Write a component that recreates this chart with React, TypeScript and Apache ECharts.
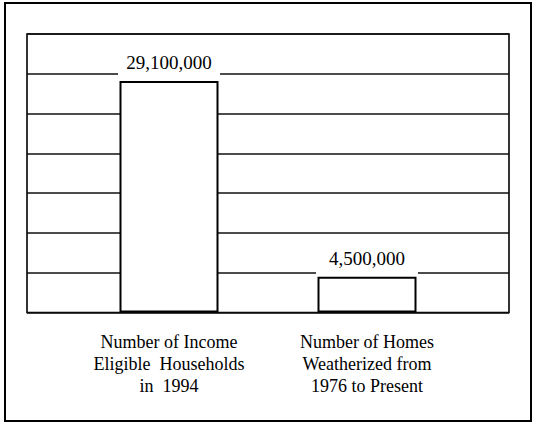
import React, { useEffect, useRef } from "react";
import * as echarts from "echarts";

const categories = [
  "Number of Income\nEligible  Households\nin  1994",
  "Number of Homes\nWeatherized from\n1976 to Present",
];
const values = [29100000, 4500000];
const yMin = 0;
const yMax = 35000000;
const yInterval = 5000000;

const FONT = "Liberation Serif";

export default function App() {
  const ref = useRef<HTMLDivElement>(null);
  useEffect(() => {
    if (!ref.current) return;
    const chart = echarts.init(ref.current, undefined, { renderer: "svg" });
    chart.setOption({
      animation: false,
      backgroundColor: "#fff",
      textStyle: { fontFamily: FONT, color: "#000" },
      graphic: [
        {
          type: "rect",
          shape: { x: 5, y: 3, width: 526, height: 418 },
          style: { fill: "none", stroke: "#000", lineWidth: 2 },
          silent: true,
        },
      ],
      grid: [
        {
          left: 27,
          top: 34,
          width: 482,
          height: 278.5,
          show: true,
          backgroundColor: "transparent",
          borderColor: "#000",
          borderWidth: 1.6,
        },
        {
          left: 70,
          top: 34,
          width: 396,
          height: 278.5,
        },
      ],
      xAxis: [
        {
          gridIndex: 0,
          type: "category",
          data: categories,
          show: false,
        },
        {
          gridIndex: 1,
          type: "category",
          data: categories,
          axisLine: { show: false },
          axisTick: { show: false },
          axisLabel: {
            interval: 0,
            margin: 18,
            fontFamily: FONT,
            fontSize: 18,
            lineHeight: 22,
            color: "#000",
            align: "center",
          },
        },
      ],
      yAxis: [
        {
          gridIndex: 0,
          type: "value",
          min: yMin,
          max: yMax,
          interval: yInterval,
          axisLine: { show: false },
          axisTick: { show: false },
          axisLabel: { show: false },
          splitLine: { show: true, lineStyle: { color: "#111", width: 1.6 } },
        },
        {
          gridIndex: 1,
          type: "value",
          min: yMin,
          max: yMax,
          interval: yInterval,
          show: false,
          splitLine: { show: false },
        },
      ],
      series: [
        {
          type: "bar",
          xAxisIndex: 1,
          yAxisIndex: 1,
          data: values,
          barWidth: 99,
          itemStyle: { color: "#fff", borderColor: "#000", borderWidth: 2 },
          label: {
            show: true,
            position: "top",
            distance: 2,
            formatter: (p: any) => Number(p.value).toLocaleString("en-US"),
            fontFamily: FONT,
            fontSize: 19,
            lineHeight: 22,
            color: "#000",
            backgroundColor: "#fff",
            width: 102,
            align: "center",
            padding: [2, 0, 5, 0],
          },
        },
      ],
    });
    return () => chart.dispose();
  }, []);
  return (
    <div
      ref={ref}
      style={{ position: "fixed", left: 0, top: 0, width: 533, height: 423 }}
    />
  );
}
